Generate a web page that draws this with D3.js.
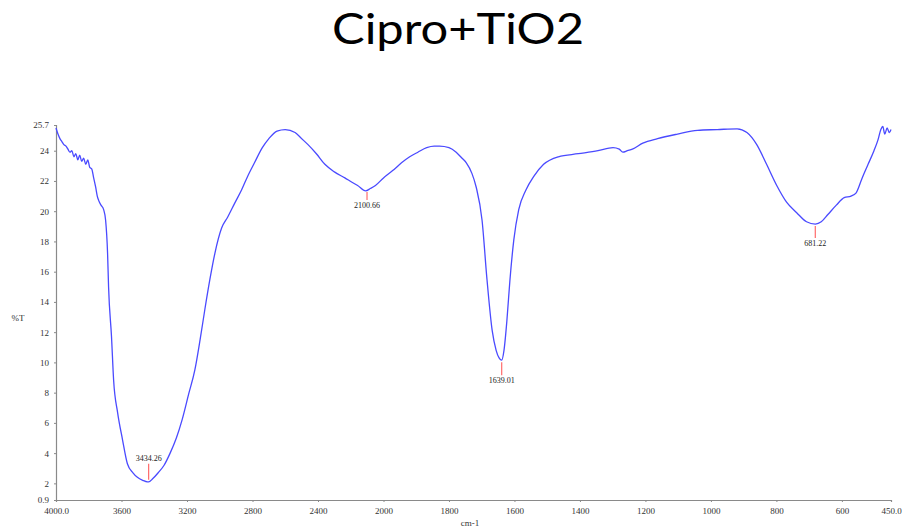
<!DOCTYPE html>
<html><head><meta charset="utf-8">
<script src="https://cdn.jsdelivr.net/npm/d3@7"></script>
<style>body{margin:0;background:#fff}svg{display:block}</style>
</head><body>
<svg id="c" width="903" height="529"></svg>
<script>
// Data (wavenumber cm-1, %T)
const wavenumbers = [4000,3988,3976,3964,3952,3939,3927,3915,3903,3891,3879,3867,3855,3843,3831,3818,3806,3794,3782,3770,3758,3748,3739,3725,3709,3697,3685,3679,3661,3648,3624,3594,3564,3530,3503,3470,3442,3434,3410,3376,3340,3303,3265,3230,3190,3152,3120,3091,3060,3030,2988,2952,2910,2867,2830,2788,2740,2700,2650,2600,2540,2500,2461,2410,2358,2300,2236,2190,2158,2109,2080,2049,2000,1971,1945,1920,1895,1868,1845,1829,1800,1778,1760,1747,1730,1717,1699,1684,1668,1656,1647,1639,1632,1623,1614,1602,1587,1565,1541,1511,1466,1405,1345,1299,1280,1269,1255,1240,1208,1163,1102,1041,981,920,890,860,830,799,769,738,708,681,663,642,617,593,572,557,538,520,502,490,481,475,469,462,455,450];
const transmittance = [25.5,25.1,24.8,24.6,24.4,24.3,24.1,23.9,24.0,23.6,23.8,23.4,23.7,23.3,23.5,23.1,23.4,22.9,22.8,22.2,21.6,21.0,20.7,20.4,20.1,19.4,17.2,15.0,11.7,8.8,6.7,4.9,3.3,2.7,2.4,2.2,2.1,2.1,2.3,2.7,3.2,4.0,5.0,6.2,7.9,9.5,11.5,13.5,15.5,17.2,18.9,19.6,20.5,21.4,22.3,23.2,24.2,24.8,25.3,25.4,25.2,24.8,24.4,23.8,23.1,22.6,22.2,21.9,21.7,21.35,21.5,21.7,22.2,22.7,23.2,23.6,23.9,24.2,24.3,24.3,24.2,23.9,23.5,23.2,22.5,21.6,19.4,15.5,12.1,10.8,10.3,10.15,10.8,12.8,15.4,18.1,20.1,21.4,22.3,23.1,23.6,23.8,24.0,24.2,24.1,23.9,24.0,24.1,24.5,24.8,25.1,25.35,25.4,25.45,25.2,24.4,23.1,21.7,20.6,19.9,19.3,19.15,19.3,19.8,20.4,20.9,21.0,21.2,22.2,23.1,24.0,24.7,25.4,25.6,25.1,25.5,25.2,25.4];
const peakWavenumbers = [3434.26, 2100.66, 1639.01, 681.22];
const peakLabels = ["3434.26", "2100.66", "1639.01", "681.22"];
const xTickValues = [4000,3600,3200,2800,2400,2000,1800,1600,1400,1200,1000,800,600,450];
const xTickLabels = ["4000.0","3600","3200","2800","2400","2000","1800","1600","1400","1200","1000","800","600","450.0"];
const yTickValues = [0.9,2,4,6,8,10,12,14,16,18,20,22,24,25.7];
const yTickLabels = ["0.9","2","4","6","8","10","12","14","16","18","20","22","24","25.7"];
const title = "Cipro+TiO2";

const svg = d3.select("#c");
const x = d3.scaleLinear().domain([4000,2000,450]).range([56,383.5,891]);
const y = d3.scaleLinear().domain([0.9,25.7]).range([500,125]);
const axisColor = "#8a8a8a";
const tickFont = "'Liberation Serif', 'DejaVu Serif', serif";

svg.append("text").attr("x",458).attr("y",44).attr("text-anchor","middle")
  .attr("font-family","Lato, 'Open Sans', sans-serif").attr("font-size",42)
  .attr("textLength",252).attr("lengthAdjust","spacingAndGlyphs")
  .attr("fill","#000").text(title);

// axes
const xAxis = d3.axisBottom(x).tickValues(xTickValues).tickSize(2).tickPadding(6)
  .tickFormat((d,i)=>xTickLabels[i]);
const gx = svg.append("g").attr("transform","translate(0,500)").call(xAxis);
const yAxis = d3.axisLeft(y).tickValues(yTickValues).tickSize(2).tickPadding(5)
  .tickFormat((d,i)=>yTickLabels[i]);
const gy = svg.append("g").attr("transform","translate(56,0)").call(yAxis);
[gx,gy].forEach(g=>{
  g.select(".domain").attr("stroke",axisColor).attr("stroke-width",1.2);
  g.selectAll(".tick line").attr("stroke",axisColor);
  g.selectAll(".tick text").attr("font-family",tickFont).attr("font-size",9).attr("fill","#333");
});

svg.append("text").attr("x",18).attr("y",321).attr("text-anchor","middle")
  .attr("font-family",tickFont).attr("font-size",9).attr("fill","#333").text("%T");
svg.append("text").attr("x",470).attr("y",526).attr("text-anchor","middle")
  .attr("font-family",tickFont).attr("font-size",9).attr("fill","#333").text("cm-1");

// spectrum
const pts = wavenumbers.map((w,i)=>[w,transmittance[i]]);
svg.append("path").datum(pts)
  .attr("fill","none").attr("stroke","#4a4aff").attr("stroke-width",1.3)
  .attr("d", d3.line().x(d=>x(d[0])).y(d=>y(d[1])).curve(d3.curveMonotoneX));

// peak markers
const interp = w => {
  for (let i=0;i<wavenumbers.length-1;i++){
    const a=wavenumbers[i], b=wavenumbers[i+1];
    if (w<=a && w>=b){ const t=(a-w)/(a-b); return transmittance[i]+t*(transmittance[i+1]-transmittance[i]); }
  }
  return transmittance[transmittance.length-1];
};
const markLen = [16, 8, 13, 12];
peakWavenumbers.forEach((w,i)=>{
  const px = x(w), py = y(interp(w));
  if (i===0){
    svg.append("line").attr("x1",px).attr("x2",px).attr("y1",py-2).attr("y2",py-2-markLen[i])
      .attr("stroke","#ff6a6a").attr("stroke-width",1.2);
    svg.append("text").attr("x",px).attr("y",py-21).attr("text-anchor","middle")
      .attr("font-family",tickFont).attr("font-size",8).attr("fill","#222").text(peakLabels[i]);
  } else {
    svg.append("line").attr("x1",px).attr("x2",px).attr("y1",py+2).attr("y2",py+2+markLen[i])
      .attr("stroke","#ff6a6a").attr("stroke-width",1.2);
    svg.append("text").attr("x",px).attr("y",py+markLen[i]+10).attr("text-anchor","middle")
      .attr("font-family",tickFont).attr("font-size",8).attr("fill","#222").text(peakLabels[i]);
  }
});
</script>
</body></html>
